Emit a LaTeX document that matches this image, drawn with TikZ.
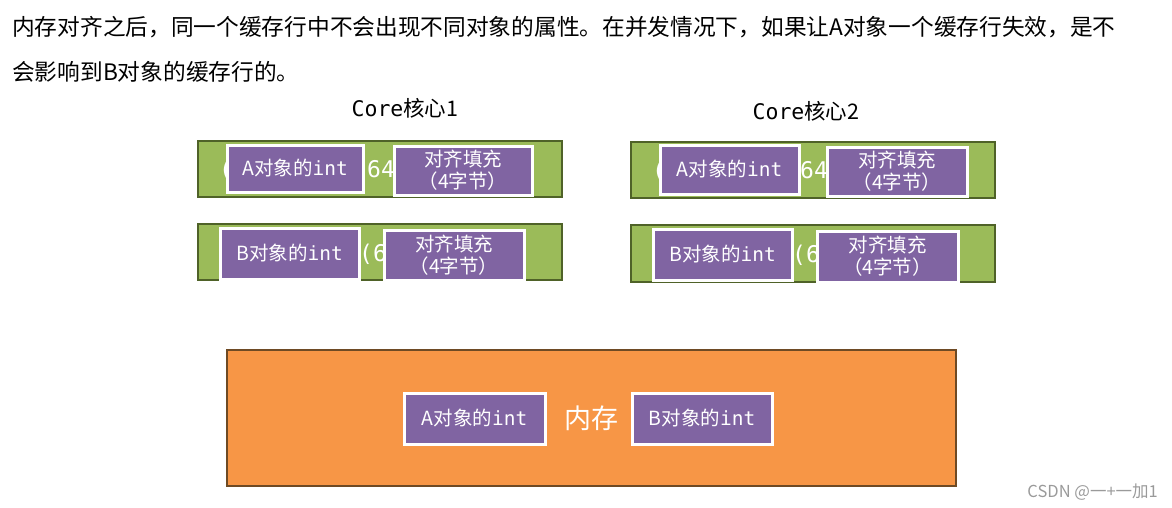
\documentclass[tikz,border=0pt]{standalone}
\usepackage{fontspec}
\setmainfont{Noto Sans CJK SC}
\newfontfamily\mono{DejaVu Sans Mono}
\usetikzlibrary{shadows}
\definecolor{gfill}{HTML}{9BBB59}
\definecolor{gdark}{HTML}{4F6228}
\definecolor{pfill}{HTML}{8064A2}
\definecolor{ofill}{HTML}{F79646}
\definecolor{odark}{HTML}{6E4A24}
\definecolor{wm}{HTML}{9A9A9A}
\tikzset{
  bar/.style={rectangle, fill=gfill, draw=gdark, line width=2pt, inner sep=0pt},
  pbox/.style={rectangle, fill=pfill, draw=white, line width=3pt, inner sep=0pt, text=white,
     font=\fontsize{19.5}{22}\selectfont, align=center,
     drop shadow={opacity=0.25, shadow xshift=1pt, shadow yshift=-1.5pt}},
  hid/.style={text=white, font=\mono\fontsize{23}{25}\selectfont, inner sep=0pt, anchor=base},
  head/.style={anchor=base west, inner sep=0pt, font=\fontsize{22.7}{26}\selectfont},
  core/.style={inner sep=0pt, anchor=base, font=\fontsize{21.5}{24}\selectfont},
}
\begin{document}
\begin{tikzpicture}[x=1pt,y=-1pt]
\useasboundingbox (0,0) rectangle (1172,507);
% heading
\node[head] (t1) at (12,35) {内存对齐之后，同一个缓存行中不会出现不同对象的属性。在并发情况下，如果让A对象一个缓存行失效，是不};
\node[head] (t2) at (12,80) {会影响到B对象的缓存行的。};
\node[core] (c1) at (405,116) {{\mono Core}核心1};
\node[core] (c2) at (806,119) {{\mono Core}核心2};
% bars
\node[bar, minimum width=364pt, minimum height=56pt] (bar1) at (380,169) {};
\node[bar, minimum width=364pt, minimum height=56pt] (bar2) at (380,252) {};
\node[bar, minimum width=364pt, minimum height=56pt] (bar3) at (813,170) {};
\node[bar, minimum width=364pt, minimum height=57pt] (bar4) at (813,253.5) {};
% partly hidden texts
\node[hid] (h1a) at (226,177) {(};
\node[hid] (h1b) at (381,177) {64};
\node[hid] (h2a) at (373,261) {(6};
\node[hid] (h3a) at (659,178) {(};
\node[hid] (h3b) at (814,178) {64};
\node[hid] (h4a) at (806,262) {(6};
% purple boxes in bars
\node[pbox, minimum width=136pt, minimum height=47pt] (a1) at (295,168.5) {A对象的{\mono int}};
\node[pbox, minimum width=138pt, minimum height=49pt] (p1) at (463,170.5) {对齐填充\\（4字节）};
\node[pbox, minimum width=139pt, minimum height=51pt] (b1) at (289.5,253.5) {B对象的{\mono int}};
\node[pbox, minimum width=140pt, minimum height=50pt] (p2) at (454,255) {对齐填充\\（4字节）};
\node[pbox, minimum width=139pt, minimum height=49pt] (a2) at (729.5,169.5) {A对象的{\mono int}};
\node[pbox, minimum width=140pt, minimum height=49pt] (p3) at (897,171.5) {对齐填充\\（4字节）};
\node[pbox, minimum width=139pt, minimum height=51pt] (b2) at (722.5,254.5) {B对象的{\mono int}};
\node[pbox, minimum width=141pt, minimum height=51pt] (p4) at (887.5,256.5) {对齐填充\\（4字节）};
% memory
\node[rectangle, fill=ofill, draw=odark, line width=2pt, minimum width=729pt, minimum height=136pt, inner sep=0pt] (mem) at (591.5,418) {};
\node[pbox, minimum width=141pt, minimum height=51pt] (a3) at (474.5,418.5) {A对象的{\mono int}};
\node[text=white, inner sep=0pt, font=\fontsize{27}{30}\selectfont] (memt) at (591,418) {内存};
\node[pbox, minimum width=140pt, minimum height=51pt] (b3) at (702,418.5) {B对象的{\mono int}};
% watermark
\node[anchor=base east, inner sep=0pt, text=wm, font=\fontsize{16.5}{18}\selectfont] (wmk) at (1158,497) {CSDN @一+一加1};
\end{tikzpicture}
\end{document}
